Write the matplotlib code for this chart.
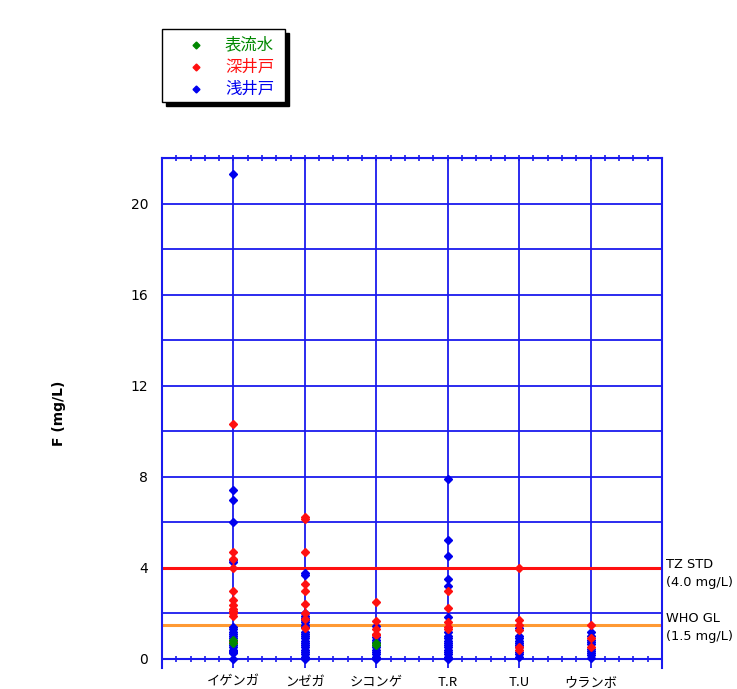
import numpy as np
import matplotlib
matplotlib.use("Agg")
from matplotlib import pyplot as plt
from matplotlib.patches import Rectangle
import matplotlib.transforms as mtransforms

plt.rcParams['font.family'] = ['Noto Sans CJK JP', 'DejaVu Sans']

# 地区名
sites = ["イゲンガ", "ンゼガ", "シコンゲ", "T.R", "T.U", "ウランボ"]

# フッ素濃度 (mg/L) : 表流水
surface = {
    "イゲンガ": [0.85, 0.7],
    "シコンゲ": [0.69, 0.62],
}

# 深井戸
deep = {
    "イゲンガ": [10.3, 4.7, 4.4, 4.0, 3.0, 2.6, 2.35, 2.2, 2.1, 2.0, 1.9, 0.75],
    "ンゼガ": [6.25, 6.15, 4.7, 3.3, 3.0, 2.4, 2.0, 1.75, 1.35],
    "シコンゲ": [2.5, 1.65, 1.31, 1.1, 1.03],
    "T.R": [2.97, 2.23, 1.6, 1.4, 1.3],
    "T.U": [4.0, 1.72, 1.5, 1.25, 0.54, 0.4],
    "ウランボ": [1.5, 0.91, 0.54],
}

# 浅井戸
shallow = {
    "イゲンガ": [21.3, 7.4, 7.0, 6.0, 4.35, 4.25, 1.4, 1.3, 1.2, 1.1, 1.0, 0.9,
                0.8, 0.7, 0.6, 0.5, 0.4, 0.35, 0.3, 0.25, 0.0],
    "ンゼガ": [3.78, 3.7, 2.0, 1.9, 1.8, 1.7, 1.6, 1.5, 1.4, 1.2, 1.1, 1.0, 0.9,
              0.8, 0.7, 0.6, 0.5, 0.4, 0.3, 0.2, 0.1, 0.0],
    "シコンゲ": [1.45, 0.98, 0.85, 0.75, 0.6, 0.5, 0.4, 0.3, 0.2, 0.1, 0.0],
    "T.R": [7.9, 5.2, 4.5, 3.5, 3.2, 1.86, 1.2, 1.0, 0.9, 0.8, 0.7, 0.6, 0.5,
            0.4, 0.3, 0.2, 0.1, 0.0],
    "T.U": [1.35, 1.0, 0.9, 0.8, 0.7, 0.6, 0.5, 0.3, 0.2, 0.1],
    "ウランボ": [1.2, 1.0, 0.85, 0.75, 0.65, 0.45, 0.35, 0.25, 0.15, 0.05],
}

series_names = ['表流水', '深井戸', '浅井戸']
series_colors = ['#008800', '#ff1010', '#0000ee']

tz_std = 4.0
who_gl = 1.5

grid_col = '#1a1aee'

W, H = 737, 689
fig = plt.figure(figsize=(W / 100, H / 100), dpi=100)
ax = fig.add_axes([0.2198, 0.0305, 0.6784, 0.7402])
ax.set_xlim(0, 7)
ax.set_ylim(-0.4, 22)

# グリッド
xpos = np.arange(1, len(sites) + 1)
for x in xpos:
    ax.axvline(x, color=grid_col, lw=1.3, zorder=1)
for y in np.arange(2, 22, 2):
    ax.axhline(y, color=grid_col, lw=1.3, zorder=1)
for y in (0, 22):
    ax.axhline(y, color=grid_col, lw=1.5, zorder=1)
    minor = np.arange(0.2, 7, 0.2)
    ax.plot(minor, [y] * len(minor), ls='none', marker='|', ms=5,
            mew=1.2, color=grid_col, zorder=1, clip_on=False)

for side in ('left', 'right', 'top'):
    ax.spines[side].set_color(grid_col)
    ax.spines[side].set_linewidth(1.5)
ax.spines['bottom'].set_visible(False)

# 基準線
ax.axhline(tz_std, color='#ff1010', lw=2.2, zorder=2)
ax.axhline(who_gl, color='#ff9933', lw=2.2, zorder=2)

# 測定値
for i, s in enumerate(sites):
    x = xpos[i]
    for data, col, z in ((shallow, series_colors[2], 3),
                         (deep, series_colors[1], 4),
                         (surface, series_colors[0], 5)):
        v = data.get(s, [])
        ax.plot([x] * len(v), v, ls='none', marker='D', ms=3.8, color=col,
                zorder=z, clip_on=False)

ax.set_xticks(xpos)
ax.set_xticklabels(sites, fontsize=9.5)
ax.set_yticks(np.arange(0, 21, 4))
ax.set_yticklabels([str(v) for v in range(0, 21, 4)], fontsize=10,
                   family='DejaVu Sans')
ax.tick_params(axis='both', length=0)
ax.tick_params(axis='x', pad=5.5)
ax.tick_params(axis='y', pad=10)
ax.set_ylabel('F (mg/L)', fontsize=10, fontweight='bold', family='DejaVu Sans',
              labelpad=46)

trans = mtransforms.blended_transform_factory(ax.transAxes, ax.transData)
ax.text(1.009, 3.74, 'TZ STD\n(4.0 mg/L)', transform=trans, fontsize=9.3,
        va='center', ha='left', linespacing=1.45, family='DejaVu Sans')
ax.text(1.009, 1.37, 'WHO GL\n(1.5 mg/L)', transform=trans, fontsize=9.3,
        va='center', ha='left', linespacing=1.45, family='DejaVu Sans')

# 凡例 (影付きの枠)
bx0, by0, bx1, by1 = 162, 29, 285, 102
fig.patches.append(Rectangle(((bx0 + 4) / W, 1 - (by1 + 4) / H),
                             (bx1 - bx0) / W, (by1 - by0) / H,
                             transform=fig.transFigure, facecolor='black',
                             edgecolor='black', zorder=5))
fig.patches.append(Rectangle((bx0 / W, 1 - by1 / H),
                             (bx1 - bx0) / W, (by1 - by0) / H,
                             transform=fig.transFigure, facecolor='white',
                             edgecolor='black', lw=1.0, zorder=6))
for k, (name, col) in enumerate(zip(series_names, series_colors)):
    yy = 1 - (45 + 22 * k) / H
    fig.lines.append(plt.Line2D([196 / W], [yy], transform=fig.transFigure,
                                ls='none', marker='D', ms=3.5, color=col,
                                zorder=7))
    fig.text(225 / W, yy, name, color=col, fontsize=11.8, va='center',
             ha='left', zorder=7)

fig.savefig('out.png', dpi=100)
